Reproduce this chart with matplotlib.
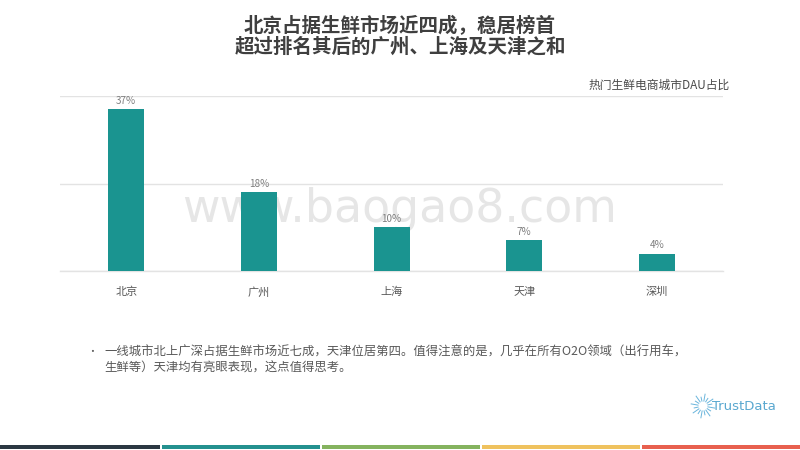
import matplotlib
matplotlib.use("Agg")
import matplotlib.pyplot as plt
import numpy as np

plt.rcParams['font.family'] = ['Noto Sans CJK SC', 'DejaVu Sans']

categories = ['北京', '广州', '上海', '天津', '深圳']
values = [37, 18, 10, 7, 4]
value_labels = ['37%', '18%', '10%', '7%', '4%']
title_lines = ['北京占据生鲜市场近四成，稳居榜首', '超过排名其后的广州、上海及天津之和']
subtitle = '热门生鲜电商城市DAU占比'
note_lines = ['一线城市北上广深占据生鲜市场近七成，天津位居第四。值得注意的是，几乎在所有O2O领域（出行用车，',
              '生鲜等）天津均有亮眼表现，这点值得思考。']
stripe_colors = ['#2b3842', '#24918f', '#85b35f', '#efc25e', '#e8604f']

fig = plt.figure(figsize=(8, 4.5), dpi=100)
fig.patch.set_facecolor('white')

# background layer (watermark, behind the chart)
bax = fig.add_axes([0, 0, 1, 1], facecolor='none', zorder=0)
bax.set_xlim(0, 800)
bax.set_ylim(450, 0)
bax.axis('off')
bax.text(400, 210, 'www.baogao8.com', ha='center', va='center', fontsize=33,
         color='#e6e6e6', family='DejaVu Sans')

ax = fig.add_axes([0.075, 1 - 271 / 450, 0.829, (271 - 96) / 450], zorder=1)
x = np.arange(len(categories))
ax.bar(x, values, width=0.27, color='#1a9490', zorder=3)
for xi, v, lab in zip(x, values, value_labels):
    ax.text(xi, v + 0.8, lab, ha='center', va='bottom', fontsize=7.2, color='#7f7f7f')
ax.set_xlim(-0.5, len(categories) - 0.5)
ax.set_ylim(0, 40)
ax.set_yticks([0, 20, 40])
ax.yaxis.grid(True, color='#e3e3e3', linewidth=1, zorder=0)
ax.tick_params(axis='y', left=False, labelleft=False)
ax.tick_params(axis='x', bottom=False, pad=8, labelsize=8, labelcolor='#595959')
ax.set_xticks(x)
ax.set_xticklabels(categories)
for s in ['top', 'right', 'left']:
    ax.spines[s].set_visible(False)
ax.spines['bottom'].set_color('#e3e3e3')
ax.spines['bottom'].set_linewidth(1)
ax.set_facecolor('none')

# titles
fig.text(0.5, 1 - 26 / 450, title_lines[0], ha='center', va='center', fontsize=14,
         fontweight='bold', color='#3f3f3f')
fig.text(0.5, 1 - 47 / 450, title_lines[1], ha='center', va='center', fontsize=14,
         fontweight='bold', color='#3f3f3f')
fig.text(730 / 800, 1 - 85 / 450, subtitle, ha='right', va='center', fontsize=8.5,
         color='#4a4a4a', fontweight='medium')

# notes
fig.text(92 / 800, 1 - 352 / 450, '•', ha='center', va='center', fontsize=7, color='#595959')
fig.text(104 / 800, 1 - 352 / 450, note_lines[0], ha='left', va='center', fontsize=8.9, color='#595959')
fig.text(104 / 800, 1 - 368 / 450, note_lines[1], ha='left', va='center', fontsize=8.9, color='#595959')

# logo + bottom stripes
lax = fig.add_axes([0, 0, 1, 1], facecolor='none', zorder=2)
lax.set_xlim(0, 800)
lax.set_ylim(450, 0)
lax.axis('off')
lax.text(712, 406, 'TrustData', ha='left', va='center', fontsize=9.5,
         color='#5aa8d0', family='DejaVu Sans')
cx, cy = 703, 406
for k, ang in enumerate(np.linspace(100, 460, 16, endpoint=False)):
    a = np.deg2rad(ang)
    r0, r1 = 5, (12 if k % 2 == 0 else 9)
    lax.plot([cx + r0 * np.cos(a), cx + r1 * np.cos(a)], [cy + r0 * np.sin(a), cy + r1 * np.sin(a)],
             color='#6ab5dc', linewidth=0.7)
for i, c in enumerate(stripe_colors):
    x0 = i * 160 + (0 if i == 0 else 2)
    lax.add_patch(plt.Rectangle((x0, 444.5), 160 - (0 if i == 0 else 2), 4, color=c, linewidth=0))

fig.savefig('out.png', dpi=100)
